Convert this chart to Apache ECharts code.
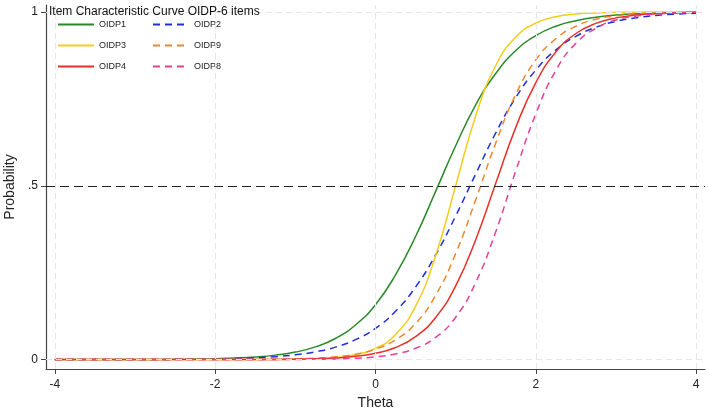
<!DOCTYPE html>
<html>
<head>
<meta charset="utf-8">
<script src="https://cdn.jsdelivr.net/npm/echarts@6/dist/echarts.min.js"></script>
<style>html,body{margin:0;padding:0;background:#fff}#c{width:709px;height:412px}</style>
</head>
<body>
<div id="c"></div>
<script>
const theta = [-4,-3.75,-3.5,-3.25,-3,-2.75,-2.5,-2.25,-2,-1.75,-1.5,-1.25,-1,-0.75,-0.5,-0.25,0,0.25,0.5,0.75,1,1.25,1.5,1.75,2,2.25,2.5,2.75,3,3.25,3.5,3.75,4];
const oidp1 = [0.0000,0.0001,0.0001,0.0002,0.0003,0.0005,0.0009,0.0015,0.0026,0.0044,0.0075,0.0129,0.0216,0.0366,0.0607,0.0997,0.158,0.244,0.354,0.484,0.615,0.733,0.823,0.889,0.932,0.959,0.975,0.985,0.991,0.995,0.997,0.998,0.999];
const oidp2 = [0.0000,0.0001,0.0001,0.0002,0.0003,0.0005,0.0007,0.0012,0.0020,0.0032,0.0052,0.0085,0.0138,0.0223,0.0359,0.0573,0.090,0.139,0.209,0.301,0.413,0.534,0.652,0.754,0.833,0.891,0.930,0.956,0.973,0.983,0.990,0.994,0.996];
const oidp3 = [0,0,0,0,0,0,0,0,0.0000,0.0001,0.0002,0.0005,0.0011,0.0026,0.0061,0.0140,0.032,0.072,0.154,0.299,0.500,0.701,0.846,0.928,0.968,0.986,0.994,0.997,0.999,0.9995,0.9998,0.9999,1.000];
const oidp9 = [0,0,0,0,0.0000,0.0000,0.0000,0.0001,0.0002,0.0003,0.0006,0.0011,0.0022,0.0042,0.0082,0.0158,0.030,0.057,0.104,0.185,0.305,0.460,0.623,0.763,0.862,0.923,0.959,0.979,0.989,0.994,0.997,0.998,0.999];
const oidp4 = [0,0,0,0,0,0,0,0.0000,0.0001,0.0002,0.0003,0.0006,0.0013,0.0025,0.0048,0.0094,0.0182,0.0349,0.066,0.121,0.212,0.345,0.507,0.668,0.797,0.885,0.938,0.967,0.983,0.991,0.995,0.998,0.999];
const oidp8 = [0,0,0,0,0,0,0,0,0.0000,0.0001,0.0001,0.0002,0.0005,0.0010,0.0019,0.0040,0.0080,0.0163,0.0326,0.064,0.122,0.222,0.368,0.543,0.707,0.832,0.910,0.953,0.977,0.988,0.994,0.997,0.999];
const xTicks = [-4,-2,0,2,4];
const yTicks = [0,0.5,1];
const yTickLabels = {0:'0',0.5:'.5',1:'1'};
const refLine = 0.5;
const titleText = 'Item Characteristic Curve OIDP-6 items';

const seriesDefs = [
  {name:'OIDP1', data:oidp1, color:'#2a8a2a', type:'solid'},
  {name:'OIDP2', data:oidp2, color:'#2030d8', type:'dashed'},
  {name:'OIDP3', data:oidp3, color:'#f2cc1e', type:'solid'},
  {name:'OIDP9', data:oidp9, color:'#f0862c', type:'dashed'},
  {name:'OIDP4', data:oidp4, color:'#e8302a', type:'solid'},
  {name:'OIDP8', data:oidp8, color:'#e8409a', type:'dashed'}
];

const series = seriesDefs.map(d => ({
  name:d.name, type:'line', smooth:0.5, symbol:'none', showSymbol:false, silent:true,
  data: theta.map((t,i)=>[t,d.data[i]]),
  itemStyle:{color:d.color},
  lineStyle:{color:d.color, width:1.5, type: d.type==='dashed'?[7,5]:'solid'}
}));

const gridLineStyle = {color:'#e6e6e6', type:[6,4], width:1};
series.unshift({
  name:'grid', type:'line', data:[], silent:true,
  markLine:{
    silent:true, symbol:['none','none'], label:{show:false}, animation:false,
    data: xTicks.map(v=>({xAxis:v, lineStyle:gridLineStyle}))
      .concat([0,1].map(v=>({yAxis:v, lineStyle:gridLineStyle})))
      .concat([{yAxis:refLine, lineStyle:{color:'#222', type:[9,5], width:1.2}}])
  }
});

const legendCommon = {
  orient:'vertical', itemWidth:36, itemHeight:10, itemGap:12,
  itemStyle:{opacity:0},
  textStyle:{fontSize:9, color:'#222', fontFamily:'Liberation Sans, Arial'}
};

const option = {
  animation:false,
  backgroundColor:'#fff',
  textStyle:{fontFamily:'Liberation Sans, Arial'},
  title:{text:titleText, left:44, top:1, textStyle:{fontSize:12, fontWeight:'normal', color:'#111', fontFamily:'Liberation Sans, Arial'}},
  legend:[
    Object.assign({data:['OIDP1','OIDP3','OIDP4'], left:52, top:15}, legendCommon),
    Object.assign({data:['OIDP2','OIDP9','OIDP8'], left:147, top:15}, legendCommon)
  ],
  grid:{left:46, right:4, top:5, bottom:43, containLabel:false, outerBoundsMode:'none'},
  xAxis:{
    type:'value', min:-4.11, max:4.11,
    name:'Theta', nameLocation:'middle', nameGap:27,
    nameTextStyle:{fontSize:14, color:'#222'},
    axisLine:{show:true, onZero:false, lineStyle:{color:'#444', width:1.2}},
    axisTick:{show:true, customValues:xTicks, length:5, lineStyle:{color:'#444'}},
    axisLabel:{customValues:xTicks, color:'#222', fontSize:12, margin:10},
    splitLine:{show:false}
  },
  yAxis:{
    type:'value', min:-0.027, max:1.02,
    name:'Probability', nameLocation:'middle', nameGap:24, nameRotate:90,
    nameTextStyle:{fontSize:14, color:'#222'},
    axisLine:{show:true, onZero:false, lineStyle:{color:'#444', width:1.2}},
    axisTick:{show:true, customValues:yTicks, length:5, lineStyle:{color:'#444'}},
    axisLabel:{customValues:yTicks, color:'#222', fontSize:12, margin:8, formatter:v=>yTickLabels[v]!==undefined?yTickLabels[v]:''},
    splitLine:{show:false}
  },
  series: series
};
const chart = echarts.init(document.getElementById('c'), null, {renderer:'canvas'});
chart.setOption(option);
</script>
</body>
</html>
